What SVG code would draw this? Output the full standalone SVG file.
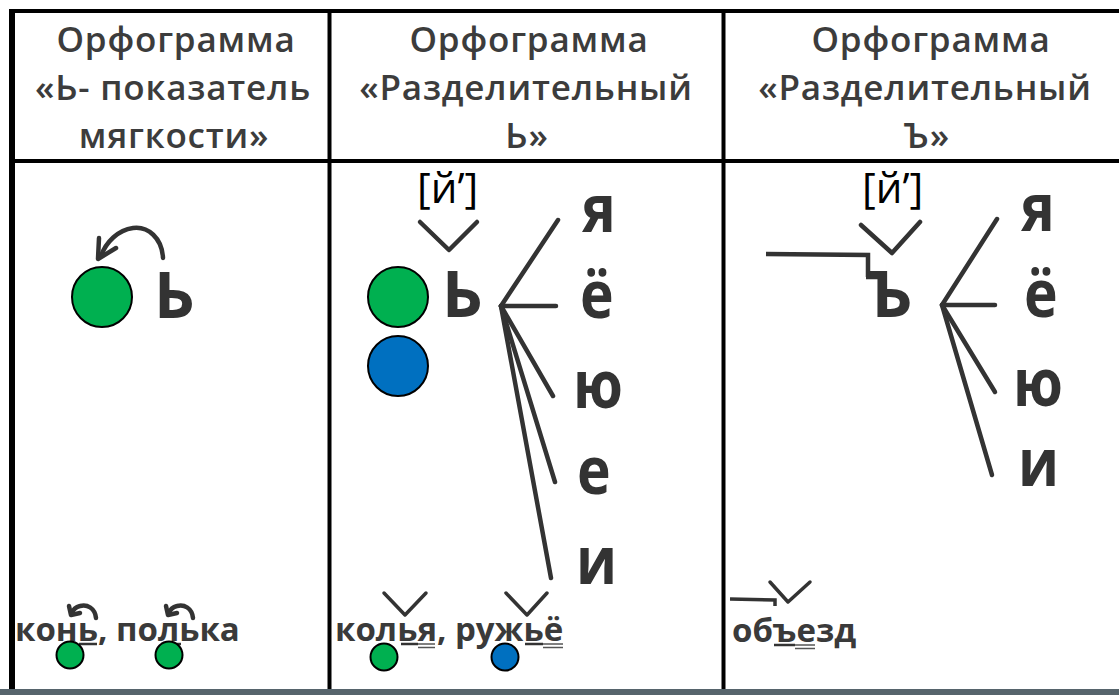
<svg xmlns="http://www.w3.org/2000/svg" width="1119" height="695" viewBox="0 0 1119 695">
<style>
.hdr{font-family:"Open Sans","Noto Sans","DejaVu Sans",sans-serif;font-weight:600;font-size:35px;letter-spacing:0.8px;fill:#3c3c3c;text-anchor:middle}
.big{font-family:"Open Sans","Noto Sans","DejaVu Sans",sans-serif;font-weight:700;font-size:64px;fill:#333}
.vow{font-family:"Open Sans","Noto Sans","DejaVu Sans",sans-serif;font-weight:700;font-size:57px;fill:#333}
.snd{font-family:"Open Sans","Noto Sans","DejaVu Sans",sans-serif;font-weight:400;font-size:42px;fill:#000}
.ex{font-family:"Open Sans","Noto Sans","DejaVu Sans",sans-serif;font-weight:700;font-size:33px;fill:#3a3a3a}
.grid{stroke:#000;stroke-width:4;fill:none}
.ln{stroke:#333;stroke-width:4.5;fill:none;stroke-linecap:round;stroke-linejoin:round}
.lnt{stroke:#333;stroke-width:3.5;fill:none;stroke-linecap:round;stroke-linejoin:round}
.arr{stroke:#333;stroke-width:4.5;fill:none;stroke-linecap:round;stroke-linejoin:round}
.ul{stroke:#333;stroke-width:2.5}
.ul2{stroke:#555;stroke-width:1.5}
.g{fill:#00b050;stroke:#000;stroke-width:2}
.b{fill:#0070c0;stroke:#000;stroke-width:2}
</style>
<rect width="1119" height="695" fill="#fff"/>
<g id="table">
<line class="grid" x1="10" y1="11" x2="1119" y2="11"/>
<line class="grid" x1="12" y1="161" x2="1119" y2="161"/>
<line class="grid" x1="12" y1="9" x2="12" y2="690" style="stroke-width:6"/>
<line class="grid" x1="329.5" y1="11" x2="329.5" y2="690"/>
<line class="grid" x1="723.5" y1="11" x2="723.5" y2="690"/>
<rect x="0" y="689" width="1119" height="6" fill="#56646c"/>
</g>
<g id="header1">
<text class="hdr" x="176" y="52">Орфограмма</text>
<text class="hdr" x="173" y="100">«Ь- показатель</text>
<text class="hdr" x="174" y="148">мягкости»</text>
</g>
<g id="header2">
<text class="hdr" x="529" y="52">Орфограмма</text>
<text class="hdr" x="526" y="100">«Разделительный</text>
<text class="hdr" x="527" y="148">Ь»</text>
</g>
<g id="header3">
<text class="hdr" x="931" y="52">Орфограмма</text>
<text class="hdr" x="925" y="100">«Разделительный</text>
<text class="hdr" x="927" y="148">Ъ»</text>
</g>
<g id="col1-scheme">
<circle class="g" cx="102" cy="297" r="30"/>
<text class="big" x="154" y="318">Ь</text>
<path class="ln" d="M163,258 C162,238 148,226 133,228 C118,230 106,242 101,256"/>
<path class="ln" d="M99,238 L98,259 L116,248"/>
</g>
<g id="col2-scheme">
<text class="snd" x="417" y="203">[й’]</text>
<circle class="g" cx="398" cy="297" r="30"/>
<circle class="b" cx="398" cy="366" r="30"/>
<text class="big" x="442" y="317">Ь</text>
<text class="vow" x="582" y="232" transform="matrix(1,0,0,1.15,0,-34.8)">я</text>
<text class="vow" x="580" y="318" transform="matrix(1,0,0,1.15,0,-47.7)">ё</text>
<text class="vow" x="573" y="408" transform="matrix(1,0,0,1.15,0,-61.2)">ю</text>
<text class="vow" x="577" y="494" transform="matrix(1,0,0,1.15,0,-74.1)">е</text>
<text class="vow" x="576" y="584" transform="matrix(1,0,0,1.15,0,-87.6)">и</text>
</g>
<g id="col3-scheme">
<text class="snd" x="862" y="203">[й’]</text>
<text class="big" x="866" y="317">Ъ</text>
<text class="vow" x="1021" y="231" transform="matrix(1,0,0,1.15,0,-34.65)">я</text>
<text class="vow" x="1024" y="317" transform="matrix(1,0,0,1.15,0,-47.55)">ё</text>
<text class="vow" x="1013" y="406" transform="matrix(1,0,0,1.15,0,-60.9)">ю</text>
<text class="vow" x="1018" y="486" transform="matrix(1,0,0,1.15,0,-72.9)">и</text>
</g>
<g id="connectors">
<path class="ln" d="M420,222 L449,250 L477,222"/>
<path class="ln" d="M558,220 L501,306 L556,306"/>
<path class="ln" d="M501,306 L553,396"/>
<path class="ln" d="M501,306 L555,482"/>
<path class="ln" d="M501,306 L551,578"/>
<path class="ln" d="M861,225 L892,253 L920,222"/>
<path class="ln" d="M766,254 L868,255 L868,277" style="stroke-linecap:butt;stroke-linejoin:miter"/>
<path class="ln" d="M997,219 L942,305 L995,305"/>
<path class="ln" d="M942,305 L995,392"/>
<path class="ln" d="M942,305 L992,475"/>
</g>
<g id="example1">
<text class="ex" x="15" y="641">конь, полька</text>
<line class="ul" x1="79" y1="644" x2="97" y2="644"/>
<line class="ul" x1="161" y1="644" x2="181" y2="644"/>
<path class="arr" d="M96,618 C95,608 87,604 80,606 C76,607 73,610 72,613"/>
<path class="arr" d="M69,606 L71,615 L80,613"/>
<path class="arr" d="M193,618 C192,608 184,604 177,606 C173,607 170,610 169,613"/>
<path class="arr" d="M166,606 L168,615 L177,613"/>
<circle class="g" cx="70" cy="655" r="13.5"/>
<circle class="g" cx="169" cy="655" r="13.5"/>
</g>
<g id="example2">
<text class="ex" x="335" y="641">колья, ружьё</text>
<line class="ul" x1="401" y1="644" x2="418" y2="644"/>
<line class="ul2" x1="418" y1="644" x2="435" y2="644"/>
<line class="ul2" x1="418" y1="647.5" x2="435" y2="647.5"/>
<line class="ul" x1="525" y1="644" x2="543" y2="644"/>
<line class="ul2" x1="543" y1="644" x2="563" y2="644"/>
<line class="ul2" x1="543" y1="647.5" x2="563" y2="647.5"/>
<path class="lnt" d="M384,593 L405,615 L426,593"/>
<path class="lnt" d="M506,593 L527,615 L547,593"/>
<circle class="g" cx="384" cy="657" r="13.5"/>
<circle class="b" cx="505" cy="657" r="13.5"/>
</g>
<g id="example3">
<text class="ex" x="732" y="642">объезд</text>
<line class="ul" x1="774" y1="645" x2="795" y2="645"/>
<line class="ul2" x1="795" y1="645" x2="815" y2="645"/>
<line class="ul2" x1="795" y1="648.5" x2="815" y2="648.5"/>
<path class="lnt" d="M730,599 L775,600 L775,606" style="stroke-linecap:butt;stroke-linejoin:miter"/>
<path class="lnt" d="M770,582 L788,602 L810,582"/>
</g>
</svg>
